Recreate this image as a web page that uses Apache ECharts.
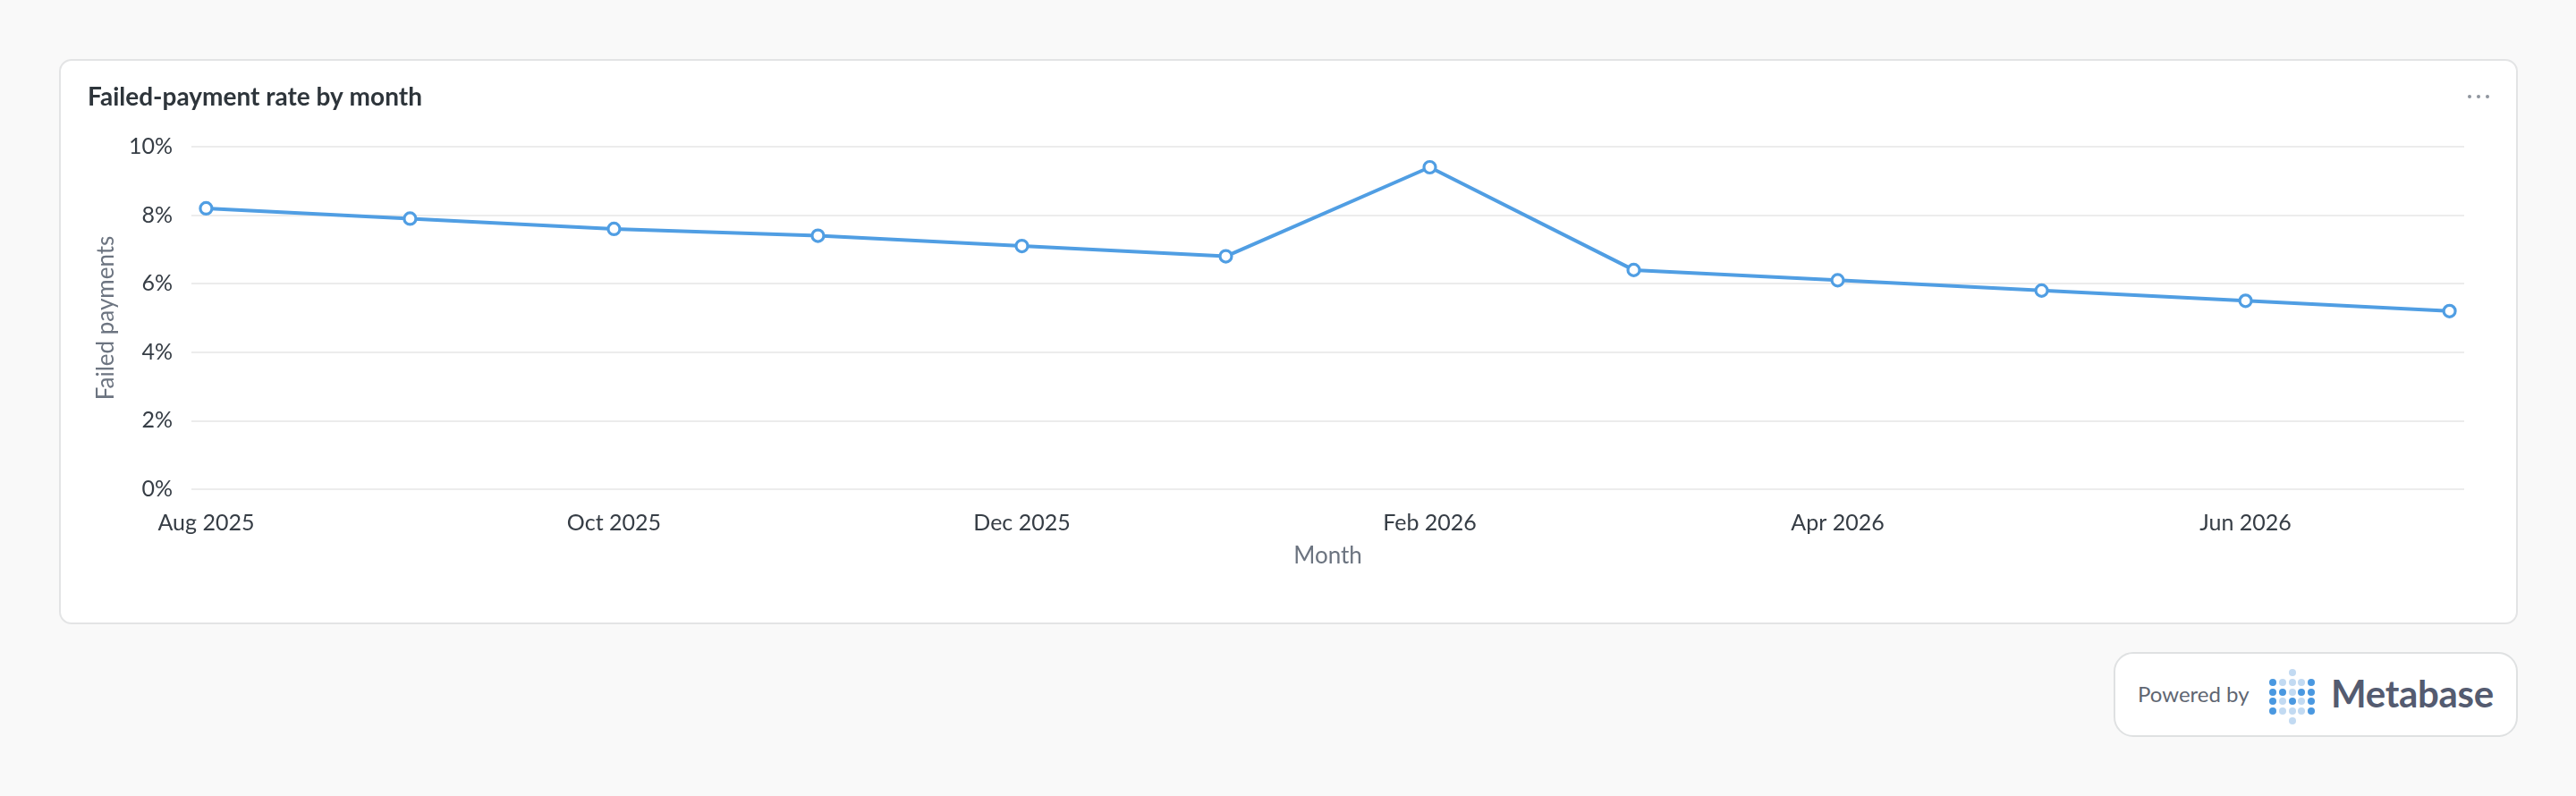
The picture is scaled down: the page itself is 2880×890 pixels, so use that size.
<!DOCTYPE html>
<html>
<head>
<meta charset="utf-8">
<script src="https://cdn.jsdelivr.net/npm/echarts@6/dist/echarts.min.js"></script>
<style>
  html, body { margin: 0; padding: 0; width: 2880px; height: 890px; background: #f9f9f9; overflow: hidden; font-family: Lato, "Noto Sans", sans-serif; }
  #card { position: absolute; left: 66px; top: 66px; width: 2745px; height: 628px; background: #fff; border: 2px solid #e3e4e5; border-radius: 14px; }
  #chart { position: absolute; left: 0; top: 0; width: 2880px; height: 890px; }
  #more { position: absolute; left: 2759px; top: 106px; }
  #more span { position: absolute; top: 0; width: 4px; height: 4px; border-radius: 50%; background: #8f959e; }
  #footer { position: absolute; left: 2363px; top: 729px; width: 448px; height: 91px; background: #fff; border: 2px solid #dfe1e2; border-radius: 22px; }
  #powered { position: absolute; left: 25px; top: 30px; font-family: Lato; font-size: 24px; color: #5f6672; line-height: 30px; }
  #logo { position: absolute; left: 172px; top: 17px; width: 56px; height: 64px; }
  #logo span { position: absolute; width: 8px; height: 8px; border-radius: 50%; }
  #mb { position: absolute; left: 241px; top: 17px; font-family: Lato; font-weight: 700; font-size: 42px; color: #545b70; line-height: 54px; letter-spacing: -0.3px; }
</style>
</head>
<body>
<div id="card"></div>
<div id="more"><span style="left:0"></span><span style="left:10px"></span><span style="left:20px"></span></div>
<div id="footer">
  <div id="powered">Powered by</div>
  <div id="logo"></div>
  <div id="mb">Metabase</div>
</div>
<div id="chart"></div>
<script>
// ---- data ----
const months = ["Aug 2025", "Sep 2025", "Oct 2025", "Nov 2025", "Dec 2025", "Jan 2026",
                "Feb 2026", "Mar 2026", "Apr 2026", "May 2026", "Jun 2026", "Jul 2026"];
const failedRate = [8.2, 7.9, 7.6, 7.4, 7.1, 6.8, 9.4, 6.4, 6.1, 5.8, 5.5, 5.2];
const xTickIndex = [0, 2, 4, 6, 8, 10];
const yTicks = [0, 2, 4, 6, 8, 10];

// ---- logo dots (decoration) ----
const logoPattern = [
  "..L..",
  "DLLLD",
  "DDLDD",
  "DLDLD",
  "DLLLD",
  "..L.."
];
const logo = document.getElementById('logo');
logoPattern.forEach((row, r) => {
  for (let c = 0; c < row.length; c++) {
    const ch = row[c];
    if (ch === '.') continue;
    const s = document.createElement('span');
    s.style.left = (c * 10.8) + 'px';
    s.style.top = (r * 10.8) + 'px';
    s.style.background = ch === 'D' ? '#4a98e0' : '#c2daf2';
    logo.appendChild(s);
  }
});

// ---- chart ----
const chart = echarts.init(document.getElementById('chart'), null, { renderer: 'canvas' });
const seriesData = failedRate.map((v, i) => [i, v]);
const pad = 0.072;
chart.setOption({
  backgroundColor: 'transparent',
  animation: false,
  title: {
    text: 'Failed-payment rate by month',
    left: 98, top: 95, padding: 0,
    textStyle: { fontFamily: 'Lato', fontWeight: 700, fontSize: 28, color: '#2e353b' }
  },
  grid: { left: 214, right: 125, top: 164, bottom: 343, containLabel: false },
  xAxis: {
    type: 'value',
    min: -pad, max: months.length - 1 + pad,
    name: 'Month', nameLocation: 'middle', nameGap: 62,
    nameTextStyle: { fontFamily: 'Lato', fontSize: 26, color: '#6c7480' },
    axisLine: { show: false }, axisTick: { show: false },
    splitLine: { show: false },
    axisLabel: {
      customValues: xTickIndex,
      formatter: v => months[Math.round(v)],
      margin: 25,
      fontFamily: 'Lato', fontSize: 25, color: '#363d45'
    }
  },
  yAxis: {
    type: 'value', min: yTicks[0], max: yTicks[yTicks.length - 1], interval: 2,
    name: 'Failed payments', nameLocation: 'middle', nameGap: 82, nameRotate: 90,
    nameTextStyle: { fontFamily: 'Lato', fontSize: 26, color: '#6c7480' },
    axisLine: { show: false }, axisTick: { show: false },
    splitLine: { show: true, lineStyle: { color: '#ececec', width: 2 } },
    axisLabel: {
      formatter: '{value}%', margin: 21,
      fontFamily: 'Lato', fontSize: 25, color: '#363d45'
    }
  },
  series: [{
    type: 'line',
    data: seriesData,
    symbol: 'circle', symbolSize: 13,
    lineStyle: { color: '#509ee3', width: 4 },
    itemStyle: { color: '#ffffff', borderColor: '#509ee3', borderWidth: 3.2 },
    z: 3
  }]
});
</script>
</body>
</html>
